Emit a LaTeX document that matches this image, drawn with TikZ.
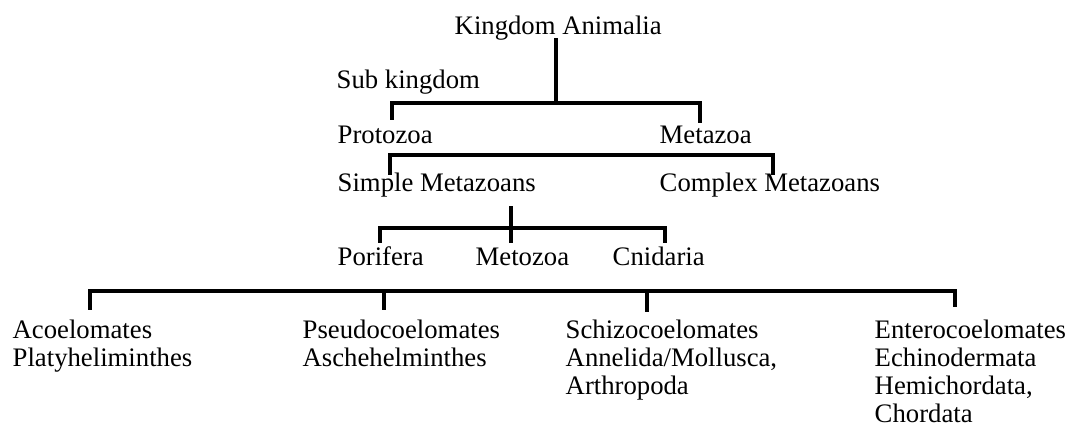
\documentclass[tikz,border=0pt]{standalone}
\usepackage{fontspec}
\setmainfont{Liberation Serif}
\usetikzlibrary{positioning}
\tikzset{
	taxonnode/.style={
			anchor=base west,
			inner sep=0pt,
			font=\fontsize{7.6}{7.9}\selectfont,
			align=left
		},
	branch/.style={
			draw=black,
			line width=0.9pt,
			line cap=rect
		}
}

\begin{document}
\begin{tikzpicture}

  \useasboundingbox (0,0) rectangle (10.69,-4.35);

  \node[taxonnode] (kingdom) at (4.54,-0.34) {Kingdom Animalia};
  \node[taxonnode] (sub) at (3.36,-0.88) {Sub kingdom};
  \node[taxonnode] (proto) at (3.37,-1.43) {Protozoa};
  \node[taxonnode] (meta) at (6.59,-1.43) {Metazoa};
  \node[taxonnode] (simple) at (3.37,-1.91) {Simple Metazoans};
  \node[taxonnode] (complex) at (6.59,-1.91) {Complex Metazoans};
  \node[taxonnode] (porifera) at (3.37,-2.65) {Porifera};
  \node[taxonnode] (metozoa) at (4.75,-2.65) {Metozoa};
  \node[taxonnode] (cnidaria) at (6.12,-2.65) {Cnidaria};

  \node[taxonnode] (acoel) at (0.12,-3.66) {Acoelomates\\Platyheliminthes};
  \node[taxonnode] (pseudo) at (3.02,-3.66) {Pseudocoelomates\\Aschehelminthes};
  \node[taxonnode] (schizo) at (5.65,-3.94) {Schizocoelomates\\Annelida/Mollusca,\\Arthropoda};
  \node[taxonnode] (entero) at (8.74,-4.22) {Enterocoelomates\\Echinodermata\\Hemichordata,\\Chordata};

  \coordinate (k1) at (5.56,-0.40);
  \coordinate (k2) at (5.56,-1.03);
  \coordinate (b1l) at (3.92,-1.18);
  \coordinate (b1r) at (7.00,-1.21);
  \coordinate (b2l) at (3.90,-1.73);
  \coordinate (b2r) at (7.73,-1.73);
  \coordinate (m1) at (5.11,-2.08);
  \coordinate (m2) at (5.11,-2.41);
  \coordinate (b3l) at (3.80,-2.41);
  \coordinate (b3r) at (6.65,-2.41);
  \coordinate (b4l) at (0.90,-3.08);
  \coordinate (b4r) at (9.55,-3.05);
  \coordinate (d1) at (3.84,-3.08);
  \coordinate (d2) at (6.47,-3.10);

  \draw[branch] (k1) -- (k2);
  \draw[branch] (b1l) -- ++(0,0.15) -| (b1r);
  \draw[branch] (b2l) -- ++(0,0.18) -| (b2r);
  \draw[branch] (m1) -- (m2);
  \draw[branch] (b3l) -- ++(0,0.13) -| (b3r);
  \draw[branch] (b4l) -- ++(0,0.17) -| (b4r);
  \draw[branch] (d1) -- ++(0,0.17);
  \draw[branch] (d2) -- ++(0,0.19);

\end{tikzpicture}
\end{document}
